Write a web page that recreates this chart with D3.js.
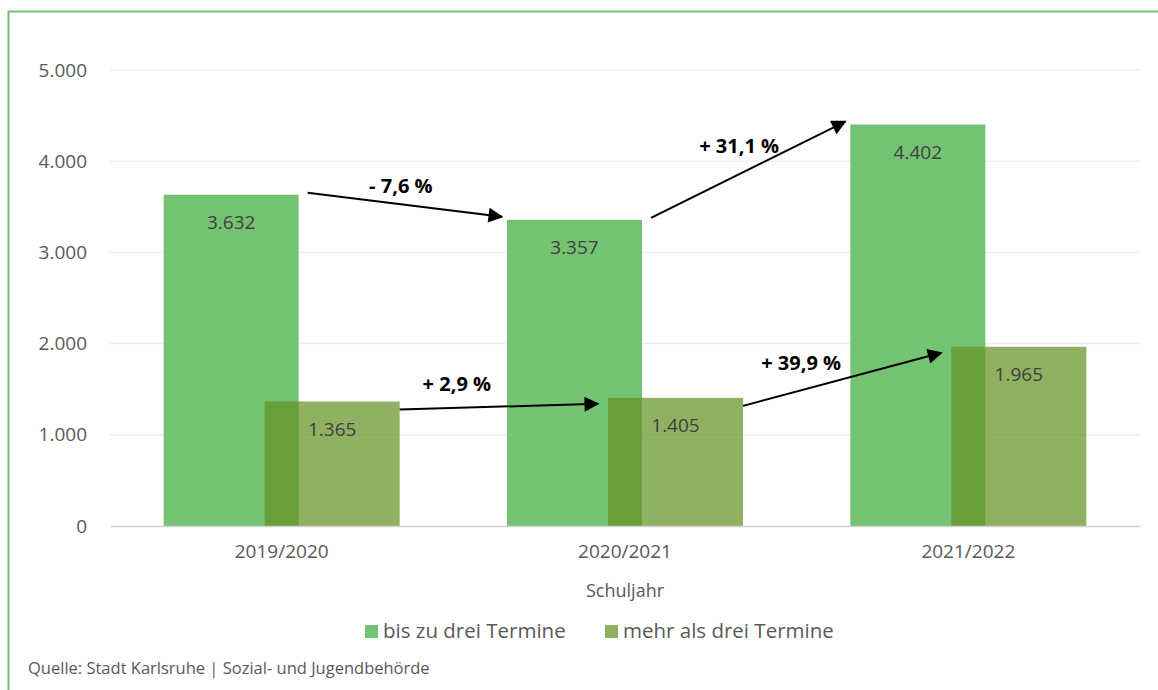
<!DOCTYPE html>
<html>
<head>
<meta charset="utf-8">
<script src="https://cdn.jsdelivr.net/npm/d3@7"></script>
<style>
  body { margin: 0; background: #fff; }
  svg text { font-family: "Open Sans", "Noto Sans", sans-serif; }
</style>
</head>
<body>
<div id="chart"></div>
<script>
// data
const years = ['2019/2020', '2020/2021', '2021/2022'];
const seriesNames = ['bis zu drei Termine', 'mehr als drei Termine'];
const upToThree = [3632, 3357, 4402];
const moreThanThree = [1365, 1405, 1965];
const yTicks = [0, 1000, 2000, 3000, 4000, 5000];
// change arrows: series index, from year, to year, label
const changes = [
  {series: 0, from: 0, to: 1, label: '- 7,6 %'},
  {series: 0, from: 1, to: 2, label: '+ 31,1 %'},
  {series: 1, from: 0, to: 1, label: '+ 2,9 %'},
  {series: 1, from: 1, to: 2, label: '+ 39,9 %'}
];

const WIDTH = 1158, HEIGHT = 690;
const MARGINS = {left: 110, right: 18, top: 70, bottom: 164};
const COLORS = ['#70c16d', 'rgb(98,144,34)'];
const OPAC = [0.97, 0.71];
const TEXT = '#595959';
// label offsets from arrow midpoint
const LABEL_OFF = [[-4, -12], [-9, -17], [-42, -16], [-41, -9]];

const svg = d3.select('#chart').append('svg')
  .attr('width', WIDTH).attr('height', HEIGHT);

// frame border (top + left)
svg.append('path')
  .attr('d', `M8.5,${HEIGHT} V11.5 H${WIDTH}`)
  .attr('fill', 'none').attr('stroke', '#72c06d').attr('stroke-width', 2);

const x = d3.scaleBand().domain(years)
  .range([MARGINS.left, WIDTH - MARGINS.right]);
const y = d3.scaleLinear().domain([0, 5000])
  .range([HEIGHT - MARGINS.bottom, MARGINS.top]);

const BAR_W = 135, OVERLAP = 34;
// left edge of bar for series s in year i
const barX = (s, i) => x(years[i]) + x.bandwidth() / 2 + (s === 0 ? -(BAR_W - OVERLAP / 2) : -OVERLAP / 2);
const values = [upToThree, moreThanThree];
const fmt = d => d3.format(',')(d).replace(/,/g, '.');

// gridlines
svg.append('g').selectAll('line')
  .data(yTicks.filter(d => d > 0))
  .join('line')
  .attr('x1', MARGINS.left).attr('x2', WIDTH - MARGINS.right)
  .attr('y1', d => y(d)).attr('y2', d => y(d))
  .attr('stroke', '#efefef').attr('stroke-width', 1.5);

// y axis labels
const yAxis = svg.append('g')
  .attr('transform', `translate(${MARGINS.left},0)`)
  .call(d3.axisLeft(y).tickValues(yTicks).tickSize(0).tickPadding(23).tickFormat(fmt));
yAxis.select('.domain').remove();
yAxis.selectAll('text').attr('fill', TEXT).style('font-size', '19px');

// bars
values.forEach((vals, s) => {
  svg.append('g').selectAll('rect')
    .data(vals)
    .join('rect')
    .attr('x', (d, i) => barX(s, i))
    .attr('y', d => y(d))
    .attr('width', BAR_W)
    .attr('height', d => y(0) - y(d))
    .attr('fill', COLORS[s])
    .attr('fill-opacity', OPAC[s]);
});

// value labels
values.forEach((vals, s) => {
  svg.append('g').selectAll('text')
    .data(vals)
    .join('text')
    .attr('x', (d, i) => barX(s, i) + BAR_W / 2)
    .attr('y', d => y(d) + 34)
    .attr('text-anchor', 'middle')
    .attr('fill', '#404040')
    .style('font-size', '19px')
    .text(fmt);
});

// baseline + x axis
const xAxis = svg.append('g')
  .attr('transform', `translate(0,${y(0)})`)
  .call(d3.axisBottom(x).tickSize(0).tickPadding(19));
xAxis.select('.domain').attr('stroke', '#d0d0d0').attr('stroke-width', 1.5);
xAxis.selectAll('text').attr('fill', TEXT).style('font-size', '19px');

svg.append('text')
  .attr('x', x(years[1]) + x.bandwidth() / 2).attr('y', 597)
  .attr('text-anchor', 'middle').attr('fill', TEXT)
  .style('font-size', '18px').text('Schuljahr');

// arrows
svg.append('defs').append('marker')
  .attr('id', 'arrow').attr('viewBox', '0 0 10 10')
  .attr('refX', 9).attr('refY', 5)
  .attr('markerWidth', 8).attr('markerHeight', 7.5)
  .attr('orient', 'auto')
  .append('path').attr('d', 'M0,0 L10,5 L0,10 z').attr('fill', '#000');

const arrowPts = c => {
  const v = values[c.series];
  return {
    x1: barX(c.series, c.from) + BAR_W + (c.series === 0 ? 9 : 0),
    y1: y(v[c.from]) + (c.series === 0 ? -2 : 8),
    x2: barX(c.series, c.to) - (c.series === 0 ? 5 : 10),
    y2: y(v[c.to]) + (c.series === 0 ? -3 : 6)
  };
};

svg.append('g').selectAll('line')
  .data(changes)
  .join('line')
  .attr('x1', d => arrowPts(d).x1).attr('y1', d => arrowPts(d).y1)
  .attr('x2', d => arrowPts(d).x2).attr('y2', d => arrowPts(d).y2)
  .attr('stroke', '#000').attr('stroke-width', 2)
  .attr('marker-end', 'url(#arrow)');

svg.append('g').selectAll('text')
  .data(changes)
  .join('text')
  .attr('x', (d, i) => { const p = arrowPts(d); return (p.x1 + p.x2) / 2 + LABEL_OFF[i][0]; })
  .attr('y', (d, i) => { const p = arrowPts(d); return (p.y1 + p.y2) / 2 + LABEL_OFF[i][1]; })
  .attr('text-anchor', 'middle')
  .attr('fill', '#000')
  .style('font-size', '20px').style('font-weight', 'bold')
  .text(d => d.label);

// legend
const legend = svg.append('g');
const legX = [365, 605];
seriesNames.forEach((name, s) => {
  legend.append('rect')
    .attr('x', legX[s]).attr('y', 625).attr('width', 13).attr('height', 13)
    .attr('fill', COLORS[s]).attr('fill-opacity', OPAC[s]);
  legend.append('text')
    .attr('x', legX[s] + 18).attr('y', 638)
    .attr('fill', TEXT).style('font-size', '20.5px')
    .text(name);
});

// source
svg.append('text')
  .attr('x', 28).attr('y', 674)
  .attr('fill', TEXT).style('font-size', '16.5px')
  .text('Quelle: Stadt Karlsruhe | Sozial- und Jugendbehörde');
</script>
</body>
</html>
